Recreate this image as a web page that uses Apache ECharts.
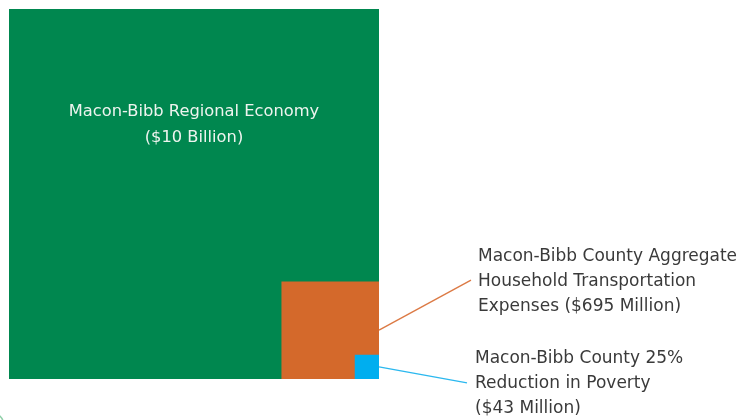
<!DOCTYPE html>
<html>
<head>
<meta charset="utf-8">
<script src="https://cdn.jsdelivr.net/npm/echarts@6/dist/echarts.min.js"></script>
<style>html,body{margin:0;padding:0;background:#fff}#c{width:745px;height:420px}</style>
</head>
<body>
<div id="c"></div>
<script>
// Data (values in millions of dollars)
const categories = ['Macon-Bibb Regional Economy', 'Macon-Bibb County Aggregate Household Transportation Expenses', 'Macon-Bibb County 25% Reduction in Poverty'];
const valuesMillions = [10000, 695, 43];
const labelTexts = [
  'Macon-Bibb Regional Economy\n($10 Billion)',
  'Macon-Bibb County Aggregate\nHousehold Transportation\nExpenses ($695 Million)',
  'Macon-Bibb County 25%\nReduction in Poverty\n($43 Million)'
];
const colors = ['#00874f', '#d4692b', '#00aeef'];
const lineColors = ['#00874f', '#dc7a45', '#2bb8ef'];

const maxV = Math.max.apply(null, valuesMillions);
const FONT_IN = '16.3px "DejaVu Sans"';
const FONT_OUT = '17px "DejaVu Sans"';

const chart = echarts.init(document.getElementById('c'));
chart.setOption({
  animation: false,
  grid: { left: 9, top: 9, width: 370, height: 370 },
  xAxis: { type: 'value', min: 0, max: 100, show: false },
  yAxis: { type: 'value', min: 0, max: 100, show: false },
  graphic: [{
    type: 'circle', shape: { cx: -10, cy: 426, r: 14 },
    style: { fill: 'none', stroke: '#8fcfa8', lineWidth: 1.5 }
  }],
  series: [{
    type: 'custom',
    coordinateSystem: 'cartesian2d',
    data: valuesMillions.map(function (v, i) { return [i, v]; }),
    renderItem: function (params, api) {
      const i = api.value(0);
      const v = api.value(1);
      const s = Math.sqrt(v / maxV) * 100;
      const p0 = api.coord([100 - s, s]);
      const p1 = api.coord([100, 0]);
      const w = p1[0] - p0[0], h = p1[1] - p0[1];
      const children = [{
        type: 'rect',
        shape: { x: p0[0], y: p0[1], width: w, height: h },
        style: { fill: colors[i] }
      }];
      if (i === 0) {
        children.push({
          type: 'text',
          style: {
            text: labelTexts[i], x: p0[0] + w / 2, y: p0[1] + h * 0.314,
            align: 'center', verticalAlign: 'middle', lineHeight: 26,
            font: FONT_IN, fill: '#eef4ef'
          }
        });
      } else {
        const sx = p1[0], sy = p0[1] + h / 2;
        const ex = i === 1 ? sx + 92 : sx + 88;
        const ey = i === 1 ? sy - 50 : sy + 16;
        children.push({
          type: 'line',
          shape: { x1: sx, y1: sy, x2: ex, y2: ey },
          style: { stroke: lineColors[i], lineWidth: 1.4 }
        });
        children.push({
          type: 'text',
          style: {
            text: labelTexts[i], x: ex + (i === 1 ? 7 : 8), y: ey + 1,
            align: 'left', verticalAlign: 'middle', lineHeight: 25,
            font: FONT_OUT, fill: '#3a3a3a'
          }
        });
      }
      return { type: 'group', children: children };
    }
  }]
});
</script>
</body>
</html>
